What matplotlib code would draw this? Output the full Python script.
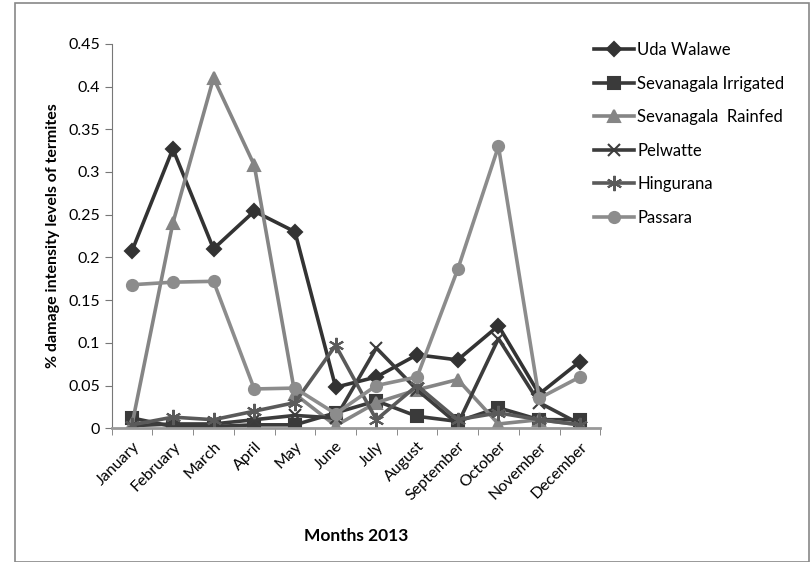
import matplotlib
matplotlib.use('Agg')
import matplotlib.pyplot as plt
from matplotlib.patches import Rectangle

plt.rcParams['font.family'] = ['Lato', 'DejaVu Sans']

months = ["January", "February", "March", "April", "May", "June", "July",
          "August", "September", "October", "November", "December"]

uda_walawe = [0.208, 0.327, 0.210, 0.254, 0.230, 0.048, 0.060, 0.086, 0.080, 0.120, 0.040, 0.078]
sev_irrigated = [0.012, 0.002, 0.002, 0.004, 0.004, 0.018, 0.032, 0.014, 0.008, 0.024, 0.010, 0.010]
sev_rainfed = [0.005, 0.240, 0.410, 0.308, 0.040, 0.003, 0.030, 0.045, 0.057, 0.005, 0.010, 0.004]
pelwatte = [0.003, 0.005, 0.005, 0.010, 0.015, 0.012, 0.094, 0.045, 0.005, 0.105, 0.030, 0.005]
hingurana = [0.004, 0.013, 0.010, 0.020, 0.030, 0.097, 0.010, 0.050, 0.010, 0.018, 0.010, 0.004]
passara = [0.168, 0.171, 0.172, 0.046, 0.047, 0.017, 0.050, 0.060, 0.186, 0.330, 0.035, 0.060]

series = [
    ("Uda Walawe", uda_walawe, "#333333", "D", 7),
    ("Sevanagala Irrigated", sev_irrigated, "#3a3a3a", "s", 8),
    ("Sevanagala  Rainfed", sev_rainfed, "#858585", "^", 8),
    ("Pelwatte", pelwatte, "#3c3c3c", "x", 9),
    ("Hingurana", hingurana, "#5a5a5a", (6, 2, 0), 11),
    ("Passara", passara, "#8c8c8c", "o", 8),
]

fig = plt.figure(figsize=(8.1, 5.62), dpi=100)
ax = fig.add_axes([0.138, 0.238, 0.603, 0.684])

x = range(len(months))
for name, vals, color, marker, ms in series:
    ax.plot(x, vals, color=color, lw=2.6, marker=marker, ms=ms,
            markerfacecolor=color, markeredgecolor=color, mew=1.5, label=name)

ax.set_xlim(-0.5, 11.5)
ax.set_ylim(0, 0.45)
ax.set_yticks([0, 0.05, 0.1, 0.15, 0.2, 0.25, 0.3, 0.35, 0.4, 0.45])
ax.set_yticklabels(["0", "0.05", "0.1", "0.15", "0.2", "0.25", "0.3", "0.35", "0.4", "0.45"])
ax.set_xticks(list(x))
ax.set_xticklabels(months, rotation=45, ha='right', rotation_mode='anchor', fontsize=11.5)
ax.set_xticks([i - 0.5 for i in range(13)], minor=True)
ax.tick_params(axis='x', which='major', length=0, pad=8)
ax.tick_params(axis='x', which='minor', length=5, direction='out', color='#777777')
ax.tick_params(axis='y', length=5, color='#777777', labelsize=11.5)

for s in ['top', 'right']:
    ax.spines[s].set_visible(False)
ax.spines['left'].set_color('#777777')
ax.spines['bottom'].set_color('#999999')
ax.spines['bottom'].set_linewidth(2)

ax.set_ylabel("% damage intensity levels of termites", fontsize=11.5, fontweight='bold', labelpad=6)
ax.set_xlabel("Months 2013", fontsize=12.5, fontweight='bold', labelpad=18)

ax.legend(loc='upper left', bbox_to_anchor=(0.967, 1.03), frameon=False, fontsize=12,
          handlelength=2.4, labelspacing=1.05, handletextpad=0.2, borderaxespad=0.2)

fig.patches.append(Rectangle((0.019, 0.0), 0.98, 0.995, transform=fig.transFigure,
                             fill=False, edgecolor='#888888', lw=1.2))

fig.savefig("out.png", dpi=100)
plt.close(fig)
